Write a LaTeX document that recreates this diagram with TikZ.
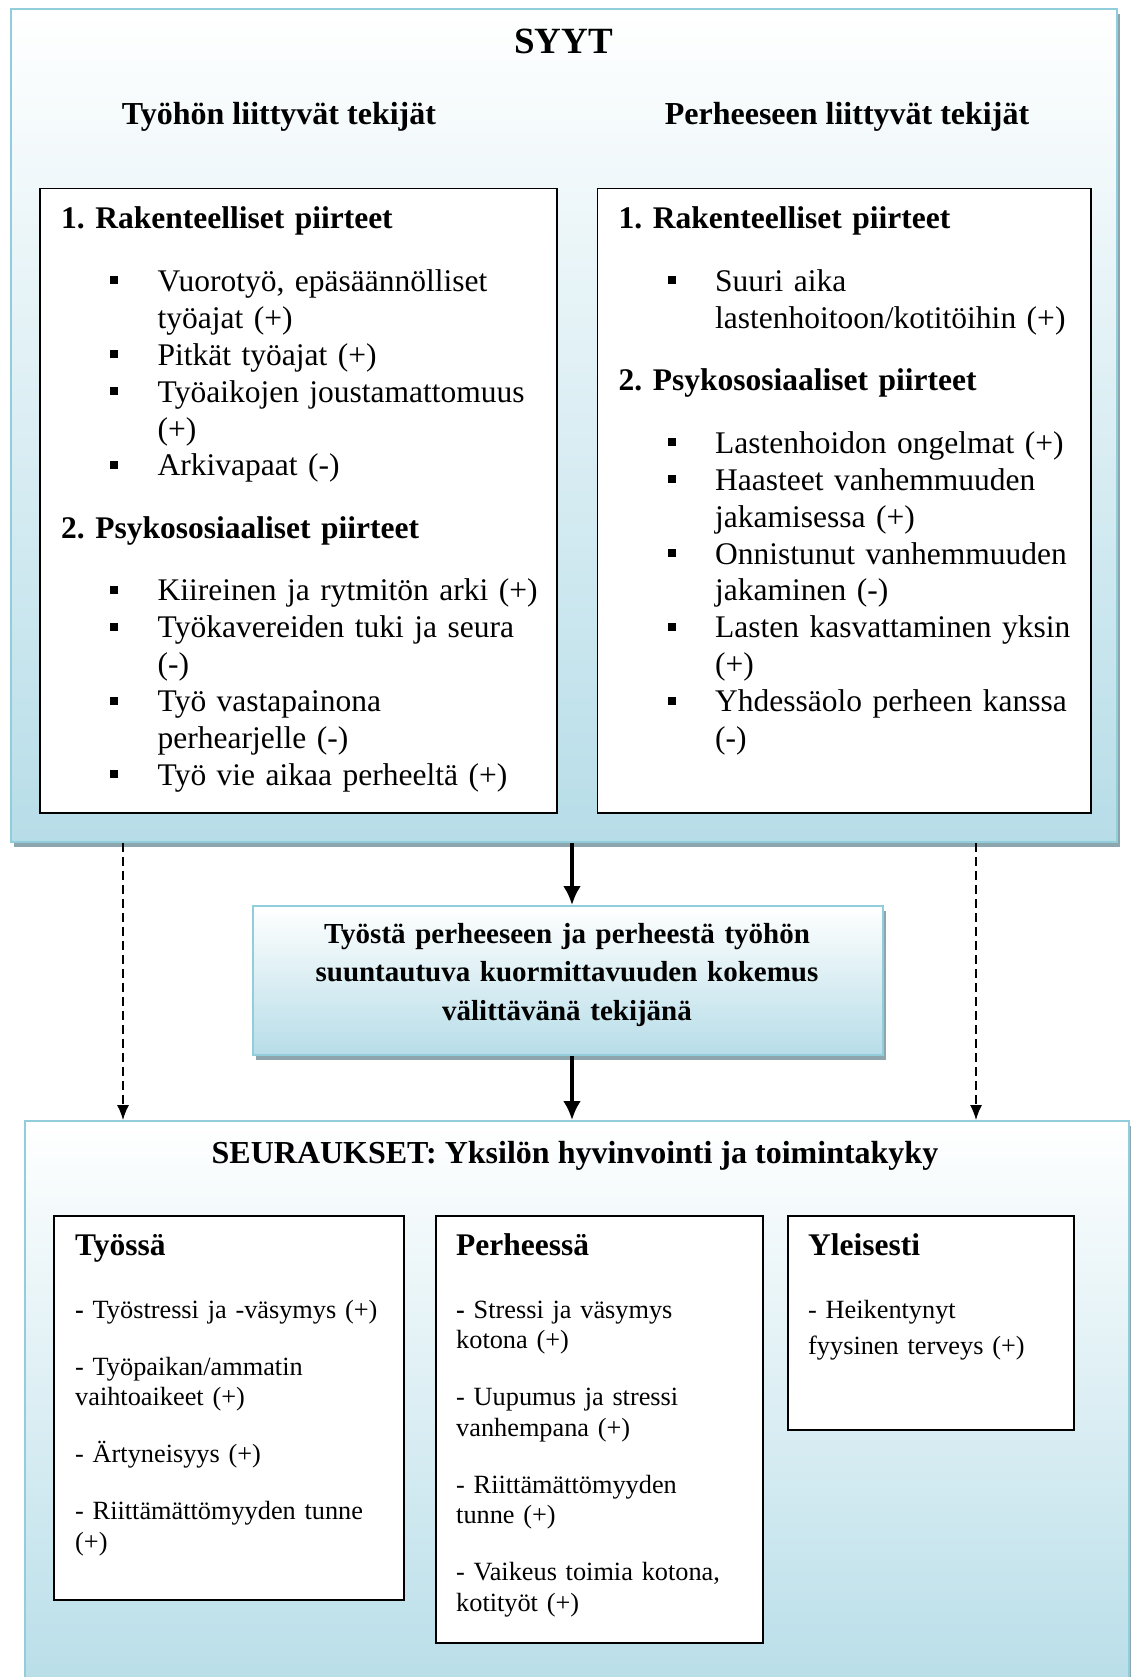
\documentclass[tikz,border=0pt]{standalone}
\usepackage{fontspec}
\setmainfont{Liberation Serif}
\usetikzlibrary{arrows.meta,shadows}
\frenchspacing
\definecolor{boxblue}{HTML}{B7DDE8}
\definecolor{borderblue}{HTML}{92CDDC}
\definecolor{shadowc}{HTML}{8DA6AD}
\newcommand\bulsq{\raisebox{7pt}{\rule{8pt}{8pt}}}
\newcommand\itm[1]{\hspace*{49pt}\makebox[47.5pt][l]{\bulsq}#1}
\newcommand\cnt[1]{\hspace*{96.5pt}#1}
\newcommand\hfnt{\fontsize{31.5}{30.5}\selectfont\bfseries}
\begin{document}
\begin{tikzpicture}[x=1pt,y=-1pt,
  bluebox/.style={draw=borderblue, line width=2pt, top color=white, bottom color=boxblue,
    inner sep=0pt, anchor=north west,
    drop shadow={shadow xshift=3pt, shadow yshift=-5pt, fill=shadowc, opacity=1}},
  plainbox/.style={draw=black, line width=1.5pt, fill=white, inner sep=0pt, anchor=north west},
  bigtxt/.style={anchor=base west, inner sep=0pt, text width=520pt, align=left,
    font=\fontsize{31.5}{36.9}\selectfont},
  smalltxt/.style={anchor=base west, inner sep=0pt, text width=330pt, align=left,
    font=\fontsize{26.3}{30.5}\selectfont},
  head/.style={anchor=base, inner sep=0pt, font=\fontsize{32}{38}\selectfont\bfseries},
  solidarrow/.style={line width=3.5pt, -{Latex[length=19pt,width=18pt]}},
  dasharrow/.style={line width=1.3pt, dash pattern=on 9pt off 5pt, -{Latex[length=15pt,width=12pt]}}
]
\useasboundingbox (0,0) rectangle (1130,1677);

% causes box
\node[bluebox, minimum width=1106pt, minimum height=833pt] (causes) at (10,8) {};
\node[head, font=\fontsize{37}{40}\selectfont\bfseries] (syyt) at (563.5,54) {SYYT};
\node[head] (workhead) at (279,125) {Työhön liittyvät tekijät};
\node[head] (famhead) at (847,125) {Perheeseen liittyvät tekijät};

\node[plainbox, minimum width=517pt, minimum height=624pt] (workbox) at (39,188) {};
\node[plainbox, minimum width=493.5pt, minimum height=624pt] (fambox) at (596.5,188) {};

\node[bigtxt] (worktxt) at (61,229) {%
\textbf{1. Rakenteelliset piirteet}\\[25.6pt]
\itm{Vuorotyö, epäsäännölliset}\\
\cnt{työajat (+)}\\
\itm{Pitkät työajat (+)}\\
\itm{Työaikojen joustamattomuus}\\
\cnt{(+)}\\
\itm{Arkivapaat (-)}\\[25.6pt]
\textbf{2. Psykososiaaliset piirteet}\\[25.6pt]
\itm{Kiireinen ja rytmitön arki (+)}\\
\itm{Työkavereiden tuki ja seura}\\
\cnt{(-)}\\
\itm{Työ vastapainona}\\
\cnt{perhearjelle (-)}\\
\itm{Työ vie aikaa perheeltä (+)}};

\node[bigtxt] (famtxt) at (618.5,229) {%
\textbf{1. Rakenteelliset piirteet}\\[25.6pt]
\itm{Suuri aika}\\
\cnt{lastenhoitoon/kotitöihin (+)}\\[25.6pt]
\textbf{2. Psykososiaaliset piirteet}\\[25.6pt]
\itm{Lastenhoidon ongelmat (+)}\\
\itm{Haasteet vanhemmuuden}\\
\cnt{jakamisessa (+)}\\
\itm{Onnistunut vanhemmuuden}\\
\cnt{jakaminen (-)}\\
\itm{Lasten kasvattaminen yksin}\\
\cnt{(+)}\\
\itm{Yhdessäolo perheen kanssa}\\
\cnt{(-)}};

% mediator box
\node[bluebox, minimum width=630pt, minimum height=149pt] (mid) at (252,905) {};
\node[anchor=base, inner sep=0pt, text width=620pt, align=center,
  font=\fontsize{29}{38.5}\selectfont\bfseries] (midtxt) at (567,943) {%
Työstä perheeseen ja perheestä työhön\\
suuntautuva kuormittavuuden kokemus\\
välittävänä tekijänä};

% effects box
\node[bluebox, minimum width=1104pt, minimum height=580pt] (effects) at (24,1120) {};
\node[head] (effhead) at (575,1163) {SEURAUKSET: Yksilön hyvinvointi ja toimintakyky};

\node[plainbox, minimum width=350pt, minimum height=384pt] (workeff) at (53,1215) {};
\node[plainbox, minimum width=327pt, minimum height=427pt] (fameff) at (435,1215) {};
\node[plainbox, minimum width=286pt, minimum height=214pt] (geneff) at (787,1215) {};

\node[smalltxt] (workefftxt) at (75,1255) {%
{\hfnt Työssä}\\[32.5pt]
\textbf{-} Työstressi ja -väsymys (+)\\[26.5pt]
- Työpaikan/ammatin\\
vaihtoaikeet (+)\\[26.5pt]
- Ärtyneisyys (+)\\[26.5pt]
- Riittämättömyyden tunne\\
(+)};

\node[smalltxt] (famefftxt) at (456,1255) {%
{\hfnt Perheessä}\\[32.5pt]
\textbf{-} Stressi ja väsymys\\
kotona (+)\\[26.5pt]
- Uupumus ja stressi\\
vanhempana (+)\\[26.5pt]
- Riittämättömyyden\\
tunne (+)\\[26.5pt]
- Vaikeus toimia kotona,\\
kotityöt (+)};

\node[smalltxt, font=\fontsize{26.3}{36}\selectfont] (genefftxt) at (808,1255) {%
{\hfnt Yleisesti}\\[27pt]
- Heikentynyt\\
fyysinen terveys (+)};

% connectors
\coordinate (ax) at (572,0);
\coordinate (dl) at (123,0);
\coordinate (dr) at (976,0);
\draw[solidarrow] (causes.south -| ax) -- (mid.north -| ax);
\draw[solidarrow] (mid.south -| ax) -- (effects.north -| ax);
\draw[dasharrow] (causes.south -| dl) -- (effects.north -| dl);
\draw[dasharrow] (causes.south -| dr) -- (effects.north -| dr);
\end{tikzpicture}
\end{document}
